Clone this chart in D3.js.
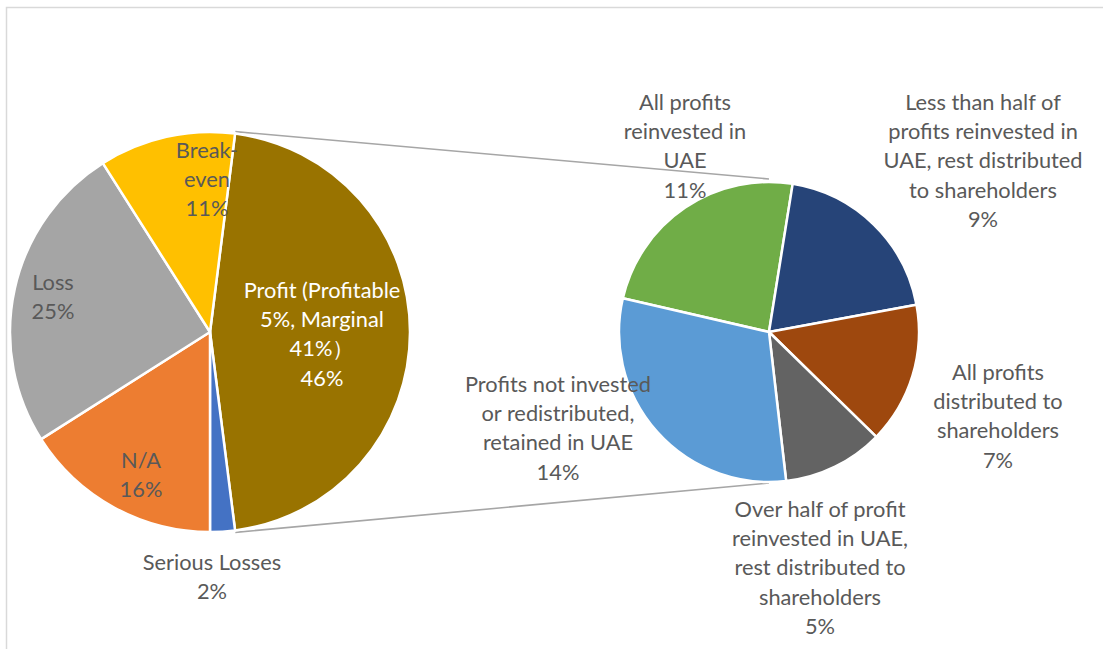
<!DOCTYPE html>
<html>
<head>
<meta charset="utf-8">
<script src="https://cdn.jsdelivr.net/npm/d3@7"></script>
<style>
  html, body { margin: 0; padding: 0; background: #fff; }
  svg { display: block; }
</style>
</head>
<body>
<svg id="chart" width="1103" height="649"></svg>
<script>
// Financial outcome of companies, with the profitable share broken down by use of profits
const mainCategories = ["Profit (Profitable 5%, Marginal 41%）", "Serious Losses", "N/A", "Loss", "Break-even"];
const mainValues = [46, 2, 16, 25, 11];
const mainColors = ["#997300", "#4472C4", "#ED7D31", "#A5A5A5", "#FFC000"];

const subCategories = [
  "All profits reinvested in UAE",
  "Less than half of profits reinvested in UAE, rest distributed to shareholders",
  "All profits distributed to shareholders",
  "Over half of profit reinvested in UAE, rest distributed to shareholders",
  "Profits not invested or redistributed, retained in UAE"
];
const subValues = [11, 9, 7, 5, 14];
const subColors = ["#70AD47", "#264478", "#9E480E", "#636363", "#5B9BD5"];

// Label text, split into the lines as they wrap
const mainLabelLines = [
  ["Profit (Profitable", "5%, Marginal", "41%）", "46%"],
  ["Serious Losses", "2%"],
  ["N/A", "16%"],
  ["Loss", "25%"],
  ["Break-", "even", "11%"]
];
const subLabelLines = [
  ["All profits", "reinvested in", "UAE", "11%"],
  ["Less than half of", "profits reinvested in", "UAE, rest distributed", "to shareholders", "9%"],
  ["All profits", "distributed to", "shareholders", "7%"],
  ["Over half of profit", "reinvested in UAE,", "rest distributed to", "shareholders", "5%"],
  ["Profits not invested", "or redistributed,", "retained in UAE", "14%"]
];

// Layout
const mainCenter = [210, 332], mainR = 200;
const subCenter = [769, 332], subR = 150;
const lineH = 29.3;
const mainLabelPos = [[322, 290], [212, 562], [141, 460], [53, 282], [207, 150]];
const subLabelPos = [[685, 102], [983, 102], [998, 372], [820, 509], [558, 384]];
const labelColor = "#595959";
const fontFamily = "Lato, 'Open Sans', sans-serif";
const fontSize = 21.8;

const svg = d3.select("#chart");

// chart frame
svg.append("rect")
  .attr("x", 6.5).attr("y", 7.5)
  .attr("width", 1200).attr("height", 800)
  .attr("fill", "none")
  .attr("stroke", "#D9D9D9")
  .attr("stroke-width", 1.5);

// Main pie: the split-off slice is centred on the right-hand side
const profitShare = mainValues[0] / d3.sum(mainValues);
const mainStart = Math.PI / 2 - profitShare * Math.PI;
const mainPie = d3.pie().sort(null).value(d => d)
  .startAngle(mainStart).endAngle(mainStart + 2 * Math.PI);
const mainArcs = mainPie(mainValues);
const mainArc = d3.arc().innerRadius(0).outerRadius(mainR);

// Secondary pie
const subStart = -77 * Math.PI / 180;
const subPie = d3.pie().sort(null).value(d => d)
  .startAngle(subStart).endAngle(subStart + 2 * Math.PI);
const subArcs = subPie(subValues);
const subArc = d3.arc().innerRadius(0).outerRadius(subR);

// connector lines from the split slice to the secondary pie
const pt = (c, r, a) => [c[0] + r * Math.sin(a), c[1] - r * Math.cos(a)];
const p0 = mainArcs[0];
const connectors = [
  [pt(mainCenter, mainR + 2, p0.startAngle), [subCenter[0], subCenter[1] - subR - 3]],
  [pt(mainCenter, mainR + 2, p0.endAngle), [subCenter[0], subCenter[1] + subR + 1]]
];
svg.append("g").selectAll("line").data(connectors).join("line")
  .attr("x1", d => d[0][0]).attr("y1", d => d[0][1])
  .attr("x2", d => d[1][0]).attr("y2", d => d[1][1])
  .attr("stroke", "#A6A6A6").attr("stroke-width", 1.6);

svg.append("g")
  .attr("transform", `translate(${mainCenter})`)
  .selectAll("path").data(mainArcs).join("path")
  .attr("d", mainArc)
  .attr("fill", (d, i) => mainColors[i])
  .attr("stroke", "#fff").attr("stroke-width", 2.5)
  .attr("stroke-linejoin", "round");

svg.append("g")
  .attr("transform", `translate(${subCenter})`)
  .selectAll("path").data(subArcs).join("path")
  .attr("d", subArc)
  .attr("fill", (d, i) => subColors[i])
  .attr("stroke", "#fff").attr("stroke-width", 2.5)
  .attr("stroke-linejoin", "round");

function drawLabels(lines, pos, colorFn) {
  const g = svg.append("g")
    .attr("font-family", fontFamily)
    .attr("font-size", fontSize)
    .attr("text-anchor", "middle");
  lines.forEach((ls, i) => {
    const t = g.append("text").attr("fill", colorFn(i));
    ls.forEach((s, j) => {
      t.append("tspan")
        .attr("x", pos[i][0])
        .attr("y", pos[i][1] + j * lineH)
        .attr("dy", "0.36em")
        .text(s);
    });
  });
}

drawLabels(mainLabelLines, mainLabelPos, i => i === 0 ? "#FFFFFF" : labelColor);
drawLabels(subLabelLines, subLabelPos, () => labelColor);
</script>
</body>
</html>
